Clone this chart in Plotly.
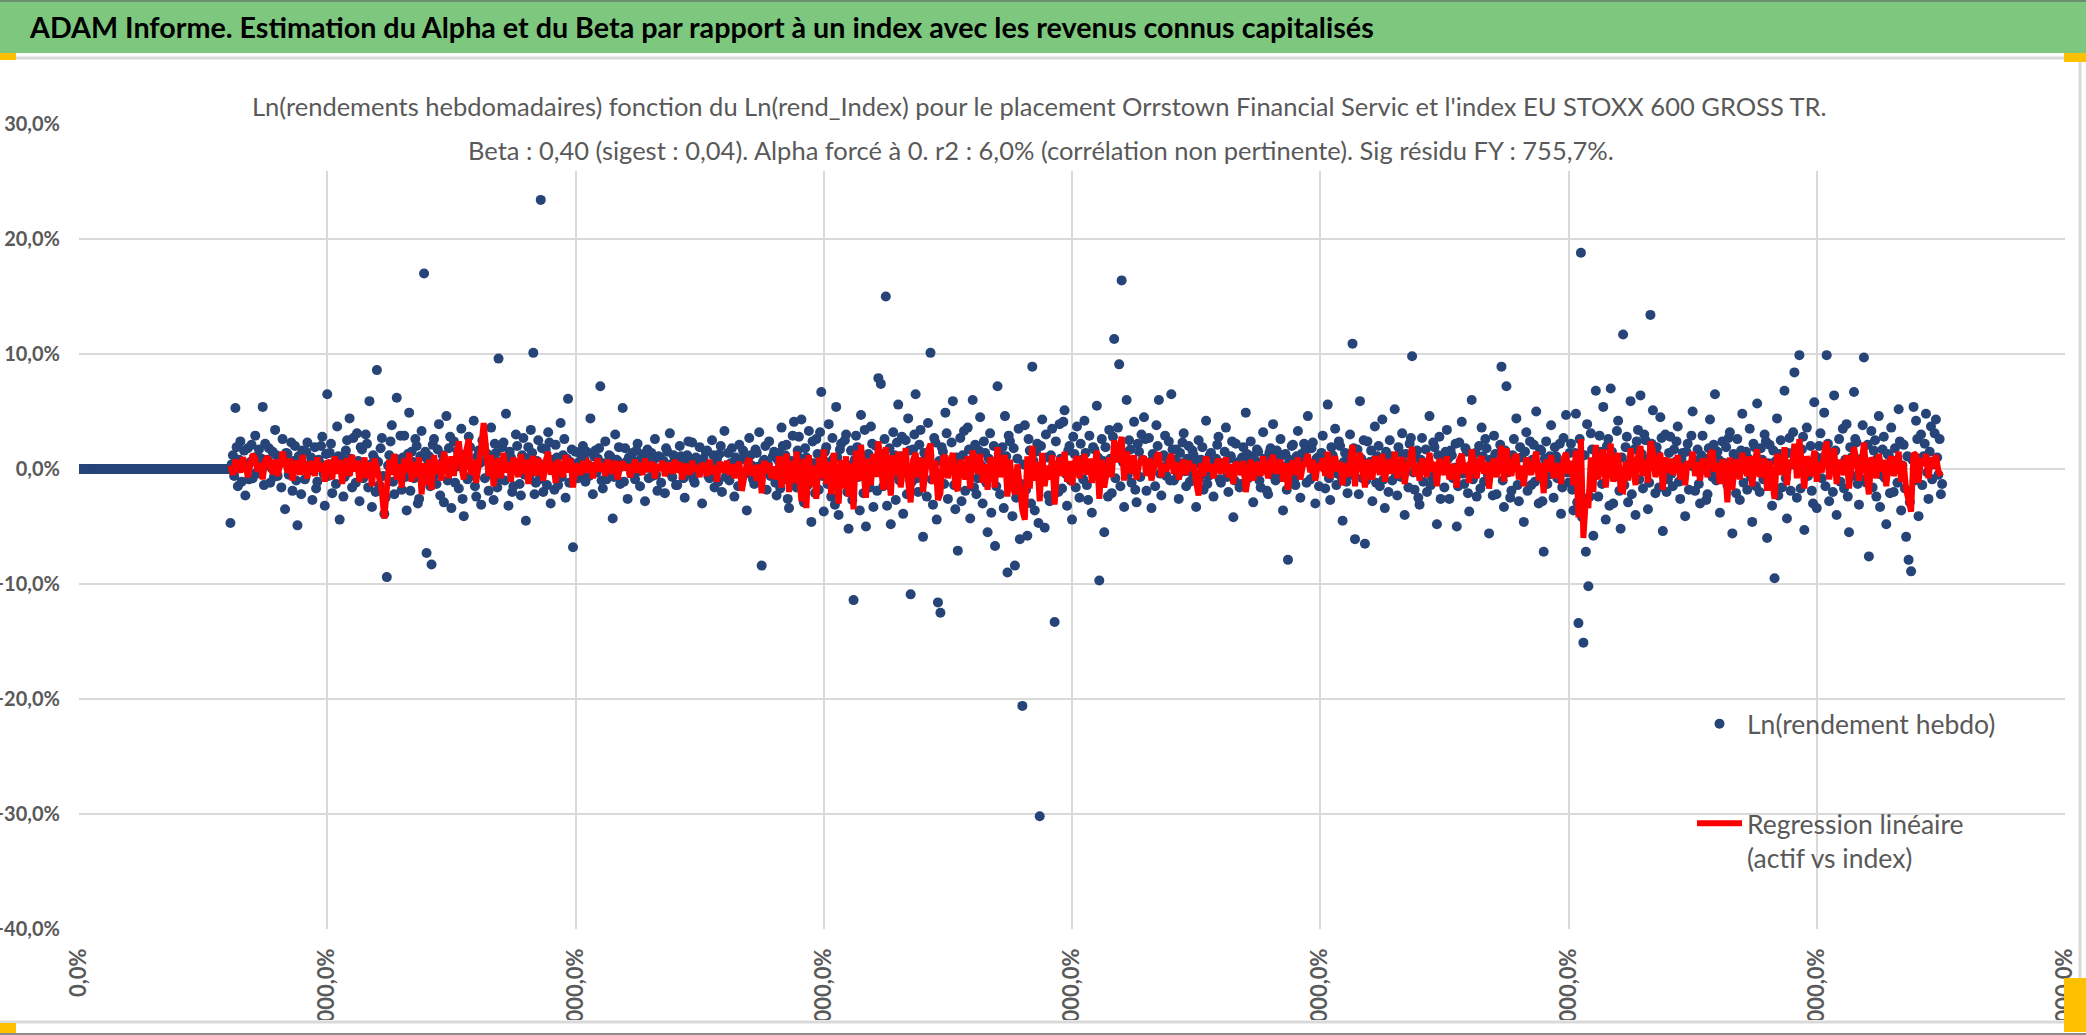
import plotly.graph_objects as go

# ---------------- data (weekly log-returns, in %) ----------------
# weeks before the listing: flat at 0 %
ZERO_RUN = [
    0, 0, 0, 0, 0, 0, 0, 0, 0, 0, 0, 0, 0, 0, 0, 0, 0, 0, 0, 0,
    0, 0, 0, 0, 0, 0, 0, 0, 0, 0, 0, 0, 0, 0, 0, 0, 0, 0, 0, 0,
    0, 0, 0, 0, 0, 0, 0, 0, 0, 0, 0, 0, 0, 0, 0, 0, 0, 0, 0, 0,
    0, 0, 0, 0, 0, 0, 0, 0, 0, 0, 0, 0, 0, 0, 0, 0, 0, 0, 0, 0,
    0, 0, 0, 0, 0, 0, 0, 0, 0, 0, 0, 0, 0, 0, 0, 0, 0, 0, 0, 0,
    0, 0, 0, 0, 0, 0, 0, 0, 0, 0, 0, 0, 0, 0, 0, 0, 0, 0, 0, 0,
    0, 0,
]

# weekly Ln(rendement) of the asset, %
LN_RENDEMENT = [
    -4.7, 0.4, 1.2, -0.6, 5.3, 1.9, -1.5, 0.8, 2.4, -1.1, 0.3, 1.6, -2.3, 0.2, 1.8, -0.9, 0.6, 2.1, -0.8, 1.0,
    2.9, -0.3, 1.1, 1.7, -0.4, 0.9, 5.4, -1.4, 2.2, 0.5, 0.8, 1.8, -1.2, 0.1, 1.5, -0.7, 3.4, 1.2, -0.6, 0.4,
    0.9, -1.6, 2.6, 0.6, -3.5, 1.4, 1.3, -0.5, 0.2, 2.3, -1.9, 0.7, 2.0, -1.0, -4.9, 1.1, 0.7, -2.2, 1.6, 0.3,
    -0.9, 1.5, 2.3, -0.2, 0.4, 1.0, -2.7, 0.6, 1.9, -1.7, -1.1, 0.8, 0.5, 2.0, 2.8, -0.4, -3.2, 1.3, 6.5, -0.6,
    1.4, 2.2, -2.1, 0.3, 0.6, -1.3, 3.7, 1.1, -4.4, 0.5, 1.0, -2.4, -0.7, 1.6, 2.5, -0.3, 4.4, 0.9, -1.6, 2.7,
    0.3, -1.2, 3.1, 0.7, -2.8, 1.9, 1.7, -0.8, -0.5, 3.0, 2.2, -1.6, 5.9, 0.4, -3.3, 1.2, 0.9, -2.0, 8.6, 0.6,
    -1.4, 1.8, 2.7, -0.6, -3.9, -2.5, -9.4, 0.3, 1.2, 2.4, 3.8, -1.1, -2.2, 0.9, 6.2, -0.4, 0.4, 2.9, -1.8, 1.0,
    2.9, -0.7, -3.6, 1.3, 4.9, -1.9, 1.5, 0.6, -0.8, 2.6, 2.0, -3.0, -2.6, 1.1, 3.3, -0.2, 17.0, 1.5, -7.3, 0.8,
    1.1, -1.5, -8.3, 2.1, 2.6, -0.5, -1.3, 1.7, 3.9, -2.3, 0.5, 1.2, -2.9, 0.2, 4.6, -1.0, 1.8, 2.8, -3.4, 0.7,
    2.4, -1.2, 0.2, 1.6, -1.7, 0.9, 3.5, -2.6, -4.1, 0.4, 1.3, -0.9, 2.8, 1.9, -0.6, 0.3, 4.2, -1.5, -2.4, 1.1,
    1.6, 0.5, -3.1, 2.5, 2.1, -0.8, 0.7, 1.3, -1.9, -0.4, 3.6, 1.0, -2.7, 2.2, 1.4, -1.6, 9.6, 0.6, -0.9, 1.9,
    2.3, -1.0, 4.8, 0.8, -3.2, 1.5, 1.0, -2.0, -1.5, 0.3, 3.0, 2.0, 0.5, -1.3, -2.3, 1.2, 2.7, -0.5, -4.5, 0.9,
    1.9, -0.6, 3.4, 1.4, 10.1, -2.2, -1.2, 0.7, 2.5, -0.9, 23.4, 1.8, -2.0, 0.4, 1.7, -1.4, 3.2, 2.3, -3.0, 0.2,
    0.8, -1.8, 2.1, 1.0, -1.4, 0.3, 4.0, -0.7, 1.2, 2.6, -2.5, 0.9, 6.1, -1.2, 0.6, 1.7, -6.8, 0.1, 1.5, -0.8,
    -0.8, 0.6, 1.3, -0.4, 2.0, 0.9, -1.1, 1.5, 0.4, -0.6, 4.4, 0.2, -2.2, 1.1, 1.6, -0.3, 0.9, 1.8, 7.2, -1.0,
    -1.7, 0.5, 2.4, -0.9, -0.3, 1.2, 1.1, 0.4, -4.3, -0.7, 3.0, 0.8, 0.7, 1.9, -1.3, 0.2, 5.3, -1.1, 1.8, 0.6,
    -2.6, 1.0, 0.5, -0.4, 1.4, 0.7, -0.9, 1.6, 2.2, -0.2, -1.5, 0.9, 0.3, 1.3, -2.8, 0.1, 1.7, -0.8, 0.8, 1.4,
    -0.6, 0.8, 2.6, -0.5, -1.9, 1.1, 1.0, -1.2, 0.2, 0.7, -2.1, 1.8, 1.5, -0.3, 3.1, 0.4, -0.7, 1.2, 0.9, -1.4,
    -1.4, 0.3, 2.0, 1.1, 0.6, -0.8, -2.5, 0.9, 1.2, 2.4, -0.4, 0.5, 2.3, -0.9, -1.2, 1.0, 0.7, -0.2, 1.9, 0.6,
    -3.0, 0.9, 0.4, 1.5, 1.6, -0.6, -0.8, 0.3, 2.5, 1.2, -1.6, 0.5, 0.9, -1.1, 1.3, 2.0, -2.0, 0.2, 3.3, -0.7,
    0.1, 1.4, -1.0, 0.5, 1.8, -0.3, -2.4, 1.0, 0.6, -1.5, 2.1, 0.8, -0.5, 1.6, 1.1, -0.4, -3.6, 0.7, 2.7, 1.2,
    0.3, -0.9, -1.3, 1.7, 1.4, 0.2, 3.2, -1.0, -8.4, 0.6, 0.8, 2.0, -1.8, 0.4, 2.4, -0.6, -0.2, 1.1, 1.5, -1.2,
    -2.3, 0.8, 1.4, -1.7, 3.6, 2.0, -0.9, 1.2, 2.1, -2.6, -3.4, 0.5, 0.7, 2.9, 4.1, -1.1, -1.6, 1.6, 2.8, -0.5,
    4.3, 0.9, -2.9, 1.8, 1.0, -1.4, 3.3, 0.2, -4.6, 2.4, 0.5, -2.1, 2.6, 1.3, -1.8, 3.2, 6.7, -0.6, -3.7, 1.5,
    1.9, -1.3, 3.9, 0.6, -2.4, 2.7, 0.9, -3.1, 5.4, 1.0, -4.0, 1.7, 2.2, -0.4, -1.1, 2.5, 3.0, -2.0, -5.2, 0.3,
    1.6, -2.7, -11.4, 0.8, 2.9, 1.9, -0.7, -3.6, 4.7, 1.1, -2.1, 3.4, -5.0, 0.5, 1.3, -1.6, 3.7, 2.2, -3.3, 0.9,
    2.0, -1.9, 7.9, 1.4, 7.4, 0.3, -1.5, 2.6, 15.0, -3.2, 0.8, 1.8, -4.8, -0.6, 3.2, 1.2, -2.7, 2.3, 5.6, -1.0,
    1.1, 2.8, -3.9, 0.4, 2.5, -2.2, 4.4, 1.6, -10.9, -1.1, 1.7, 3.0, 6.5, -0.8, -2.0, 2.1, 3.4, 0.6, -5.9, 1.4,
    0.6, -2.4, 4.0, 1.2, 10.1, -0.9, -3.1, 2.7, 2.3, -4.4, -11.6, 0.7, -12.5, 1.9, 1.5, -1.3, 4.9, 3.1, -2.6, 0.2,
    0.4, 2.3, 5.9, -1.4, -3.5, 1.0, -7.1, 0.6, 2.7, -2.8, 1.2, 3.3, -1.9, -0.5, 3.6, 1.7, -4.3, 0.8, 6.0, -1.6,
    2.1, -2.2, -0.8, 1.6, 4.5, 0.3, -3.0, 2.4, 1.4, -1.2, -5.5, 0.9, 3.1, -3.8, 0.6, 2.0, -6.7, -1.5, 7.2, 1.3,
    -2.2, 0.5, 1.9, -3.4, 4.6, 1.1, -9.0, 2.9, 2.4, -0.7, -4.1, 1.8, -8.4, -2.5, 0.9, 3.5, -6.1, -1.3, -20.6, 0.4,
    3.8, -1.8, -5.8, 2.6, 1.6, -3.0, 8.9, 0.7, -3.6, 1.5, 2.2, -4.7, -30.2, 2.0, 4.3, -0.9, -5.1, 3.0, 1.0, -2.3,
    -2.8, 1.2, 3.5, -0.6, -13.3, 2.4, 0.3, -2.0, 3.9, 0.9, -1.7, 4.1, 5.1, -0.4, -3.2, 1.6, 2.0, -1.0, -4.4, 2.8,
    1.3, -1.6, 3.7, 0.5, -2.5, 2.2, 0.8, -0.9, 4.2, 1.4, -1.4, -2.7, 2.9, 0.3, -3.8, 1.9, 1.7, -0.5, 5.5, 1.0,
    -9.7, -1.2, 2.6, 0.7, -5.5, 1.9, 0.4, -2.4, 3.4, 0.9, -2.1, 2.8, 11.3, -0.8, 1.8, 3.6, 9.1, -1.5, 16.4, 0.6,
    -3.3, 1.4, 6.0, -0.5, 2.5, 1.7, -1.2, 0.3, 4.1, -1.8, -2.9, 2.2, 1.5, -0.7, 3.0, 0.8, 4.5, 2.6, -1.9, -0.2,
    2.7, 0.6, -3.4, 1.3, 0.9, -1.5, 3.8, 2.0, 6.0, -0.4, -2.3, 1.1, 1.2, 2.9, -0.6, 0.4, 2.4, -1.0, 6.5, 1.7,
    -1.0, 0.8, 1.7, -0.6, -2.6, 1.4, 0.5, 2.3, 3.1, -0.2, -1.5, 0.9, 2.0, -1.1, -0.3, 1.6, 1.2, 0.4, -3.3, 0.7,
    2.5, -0.8, 0.8, 1.9, -1.8, 0.3, 4.2, -1.3, -0.6, 1.2, 1.4, -0.4, -2.4, 0.6, 0.9, 2.1, 2.8, -0.9, -1.2, 0.5,
    0.3, 1.5, 3.6, -0.7, -2.0, 0.9, 1.1, 2.4, -4.2, -1.0, 2.2, 0.4, 0.6, -1.6, -1.3, 1.0, 1.9, -0.3, 4.9, 1.3,
    -0.8, 0.6, 2.4, 1.1, -2.9, -0.4, 0.7, 1.7, 1.5, -1.0, -1.6, 0.3, 3.2, 0.9, 0.2, -1.9, -2.2, 1.4, 1.8, -0.5,
    3.9, 0.7, -1.0, 1.6, 0.9, -0.6, 2.6, 1.2, -3.6, 0.2, 1.3, -1.8, -7.9, 0.8, 0.4, 2.0, 2.1, -0.9, -1.4, 1.1,
    3.3, -0.4, -2.5, 1.3, 0.8, 2.2, 1.6, -1.2, 4.6, 0.5, -0.9, 1.8, 2.3, -0.6, -3.0, 0.9, 1.0, -1.5, 0.5, 1.4,
    2.9, 0.4, -1.7, 1.0, 5.6, -0.8, -2.7, 1.9, 1.2, 0.2, 3.5, -1.4, -0.4, 2.4, 2.0, -0.7, -4.5, 0.6, 1.4, -1.1,
    -2.1, 1.2, 3.0, -0.5, 10.9, 1.8, -6.1, 0.6, 1.7, -2.2, 5.9, 0.9, -0.8, 2.5, -6.5, -1.0, 2.4, 0.3, 0.6, 1.6,
    -2.8, 0.7, 3.7, -1.2, 1.1, 2.0, -1.5, 0.4, 4.3, -0.9, -3.4, 1.5, 0.9, -2.0, 2.5, 1.1, -1.0, 0.2, 5.2, -0.6,
    -2.3, 1.9, 1.4, -0.7, 3.1, 0.5, -4.0, 1.3, 0.4, -1.6, 2.2, 2.7, 9.8, -0.3, -1.8, 1.0, 1.6, -2.5, -3.1, 0.8,
    2.7, -1.1, 0.3, 1.7, -2.0, 0.6, 4.6, -1.4, -0.7, 2.3, 1.9, -0.2, -4.8, 1.2, 2.8, -2.6, 0.8, 0.4, -1.6, 1.5,
    3.4, 0.9, -2.6, 1.6, 1.2, -0.8, 0.1, 2.2, -5.0, -1.5, 2.3, 0.6, 4.1, -0.4, -1.3, 1.8, 1.5, -2.1, -3.7, 0.3,
    6.0, -0.9, 0.6, 1.4, -2.4, 0.2, 2.0, -1.7, 3.6, 1.1, -1.1, 2.6, 1.8, -0.5, -5.6, 0.8, 0.7, -2.3, 2.9, 1.3,
    -2.2, 0.4, 1.3, 2.1, 8.9, -1.0, -3.3, 1.6, 7.2, -0.3, 0.5, -2.5, -1.9, 1.2, 2.6, 0.7, 4.4, -1.4, -2.8, 1.9,
    1.0, -0.6, -4.6, 1.5, 3.2, -1.9, 0.2, 2.4, -1.4, 0.8, 2.1, -1.1, 5.0, 0.3, -3.0, 1.7, 1.6, -2.8, -7.2, 0.9,
    2.4, -1.3, -0.5, 1.1, 3.8, 0.4, -2.5, 1.9, 1.1, -0.8, 0.6, 2.2, -3.9, -1.6, 2.7, 0.5, 4.7, -0.3, -1.2, 1.4,
    2.2, -1.8, -3.6, 1.4, 4.8, -2.9, -13.4, 2.6, 18.8, -4.2, -15.1, 1.2, -7.2, 3.9, -10.2, -2.4, 3.1, 1.7, -5.8, -0.6,
    6.8, 1.1, -2.4, 2.9, 1.5, -1.3, 5.4, 0.6, -4.4, 2.0, 2.6, -3.2, 7.0, 1.5, -3.0, -0.7, 0.8, 3.3, 4.2, -1.9,
    -5.2, 1.0, 11.7, -1.4, 1.9, 2.8, -2.9, 0.5, 5.9, -2.2, 0.4, 1.7, -4.0, 2.4, 3.4, -0.9, 6.4, 1.3, -1.7, 3.0,
    2.5, 0.8, -3.5, -1.2, 13.4, 2.2, 5.1, 0.3, -2.1, 1.9, 1.2, -1.6, 4.5, 2.7, -5.4, 0.6, 3.0, -2.0, -0.9, 1.4,
    2.8, -0.4, -1.5, 1.7, 0.6, 2.4, 3.7, -1.1, -2.6, 0.9, 1.4, -0.6, -4.1, 1.5, 2.2, -1.8, 0.3, 2.9, 5.0, 0.2,
    -1.9, 0.7, 1.7, -1.3, -3.0, 1.2, 2.9, 0.4, 0.9, -2.7, -2.2, 1.8, 4.3, -0.3, -0.7, 2.1, 6.5, -1.0, 1.5, 0.8,
    -3.8, 0.6, 2.4, -0.9, 0.5, 1.9, -1.4, 2.7, 3.2, -0.5, -5.6, 1.3, 1.1, -2.1, 2.6, 0.4, -2.7, 1.6, 4.8, -1.2,
    0.2, 1.5, -1.8, 0.9, 3.5, -0.7, -4.6, 2.2, 1.9, -1.5, 5.7, 0.3, -2.0, 1.8, 0.8, -0.9, 3.0, 2.4, -6.0, 0.5,
    2.1, -1.0, -3.2, 1.6, -9.5, 0.7, 4.4, -2.3, 1.3, 2.5, -1.6, 0.2, 6.8, -0.8, -4.3, 1.4, 2.7, -1.9, 0.4, 3.2,
    8.4, 0.9, -2.5, 1.2, 9.9, -1.7, 1.7, 2.8, -5.3, 0.5, 3.6, -0.6, 0.6, 2.0, -1.9, -3.0, 5.8, 1.1, -3.4, 0.4,
    2.0, 3.1, -0.8, 1.0, 4.9, -1.5, 9.9, 2.2, -2.8, 0.7, 1.4, -2.0, 6.4, 1.6, -4.0, 0.3, 2.6, -1.1, 0.3, 3.5,
    -1.7, 0.8, 3.9, -2.4, -5.5, 1.9, 1.0, -0.6, 6.7, 2.6, 2.3, -1.3, -3.1, 0.5, 0.9, 3.8, 9.7, -0.9, -1.2, 2.1,
    -7.6, 0.4, 3.3, -1.6, 1.6, 2.5, -2.4, 0.9, 4.6, -3.3, -0.5, 1.7, 2.8, -0.8, -4.8, 1.3, 1.2, -2.1, 3.6, 0.6,
    -2.0, 1.8, 0.7, -1.2, 5.2, 2.4, -3.6, 0.3, 2.1, -1.7, -5.9, 1.1, -7.9, -2.9, -8.9, 0.8, 5.4, -1.0, 4.2, 2.6,
    -4.1, 0.6, 3.0, -1.4, 1.1, 2.2, 4.8, -0.3, -2.6, 1.5, 3.7, -0.9, 0.4, 3.1, 4.3, 1.0, -0.5, 2.6, -2.2, -1.3,
]

# regression line beta * Ln(rend_Index), %, one value every second week
REGRESSION = [
    0.3, -0.5, 0.8, 0.2, -0.3, 1.0, 0.4, -0.7, 0.6, 1.3,
    0.9, -0.2, 0.5, -0.9, 0.7, 1.1, 0.2, -0.4, 0.8, -0.6,
    0.4, 1.5, 0.6, -0.3, 0.9, -1.0, 0.3, 0.7, -0.5, 1.2,
    0.1, -0.8, 0.6, 0.4, -0.6, 1.0, -0.2, 0.5, -1.1, 0.7,
    0.5, -0.9, 1.1, -0.4, 0.8, -1.3, 0.3, 0.9, -0.6, 1.2,
    -0.2, 0.7, -1.1, 0.4, 1.0, -0.8, 0.6, -1.5, 0.9, 0.2,
    -1.2, -2.0, -4.3, -1.0, 0.8, -0.5, 1.3, -0.9, 0.4, -1.6,
    0.9, -0.3, 1.4, -1.1, 0.6, -0.7, 1.0, -2.2, 0.5, -1.4,
    0.8, -1.8, 1.2, -0.4, 0.7, -1.0, 1.5, 0.3, -0.8, 1.1,
    -0.6, 1.3, 2.4, 0.2, -0.9, 1.6, 2.6, -0.5, 0.8, -1.2,
    1.0, 1.9, 4.0, 0.7, -0.6, 1.2, -1.5, 0.4, 0.9, -0.8,
    1.4, -0.3, 0.6, -1.1, 1.0, 0.2, -0.7, 1.3, -0.4, 0.8,
    -1.3, 0.5, 1.1, -0.6, 0.9, 0.3, -1.0, 0.7, 1.5, -0.5,
    0.6, -1.2, 0.8, 0.1, -0.7, 1.2, -0.3, 0.9, -1.6, 0.4,
    0.2, -0.5, 0.7, -0.3, 0.6, 0.4, -0.8, 0.3, 0.9, -0.2,
    0.5, -0.6, 0.8, 0.1, -0.4, 0.7, -0.9, 0.3, 0.6, -0.1,
    0.4, -0.7, 0.2, 0.8, -0.3, 0.5, -0.5, 0.9, -0.2, 0.3,
    0.6, -0.8, 0.4, -0.1, 0.7, -0.6, 0.2, 0.5, -0.4, 0.8,
    -0.3, 0.6, -0.9, 0.4, 0.1, -0.5, 0.7, -0.2, 0.3, -0.7,
    0.5, 0.2, -0.6, 0.8, -0.4, 0.3, -1.1, 0.6, 0.1, -0.3,
    0.7, -0.5, 0.4, -0.8, 0.2, 0.6, -1.9, -0.4, 0.5, 0.9,
    -0.6, 0.3, -1.0, 0.4, -2.1, 0.7, -0.3, 0.5, -0.8, 0.2,
    -0.9, 1.1, -1.6, 0.4, 1.3, -2.0, 0.7, -1.2, 1.5, -0.5,
    -2.8, 0.9, -3.4, 1.2, -1.5, 0.3, -2.6, 1.0, -0.8, 1.7,
    -1.3, 0.6, -2.2, 1.4, -0.4, -3.0, 0.8, -1.7, 1.1, -2.4,
    0.5, -3.5, 1.6, -1.0, 2.1, -0.6, -2.5, 0.9, -1.4, 1.3,
    -0.7, 2.4, 0.6, -1.8, 1.9, -0.9, -2.3, 1.2, -0.5, 1.5,
    -1.6, 0.4, 1.8, -1.1, -2.9, 0.8, 1.4, -0.7, 1.0, -2.0,
    0.3, 1.6, 2.2, -1.3, 0.7, -2.7, -2.1, 0.9, 1.2, -0.8,
    0.5, 1.4, -1.5, -1.9, 0.8, 0.2, -0.9, 1.1, -1.7, 1.6,
    0.6, -0.4, 1.3, -1.2, 0.4, -1.8, 1.0, 0.3, -1.6, 1.9,
    -0.7, 0.5, 1.2, -2.4, 0.8, -1.4, -2.2, 0.4, -1.9, -3.6,
    -4.4, 1.1, -1.7, 2.0, -1.0, 0.6, -2.8, 1.4, -1.5, 0.3,
    -0.9, 1.2, -3.1, 0.2, 1.0, -0.6, 1.5, -1.1, 0.7, -1.4,
    0.5, 1.1, -0.8, 0.3, 1.3, -0.5, 0.9, -1.2, 0.6, 1.6,
    -2.6, 0.8, -1.6, 0.2, 1.0, -0.7, 2.5, 0.6, 1.9, 2.8,
    -1.0, 1.5, 0.7, -0.4, 1.2, -0.9, 0.4, 0.8, 1.1, -0.6,
    0.9, -1.0, 0.3, 1.1, 1.4, -0.7, 0.4, -0.2, 0.7, 1.3,
    -0.4, 0.6, -0.9, 0.2, 0.8, -0.5, 0.7, -0.1, 0.4, -1.2,
    -2.3, 0.5, -0.6, 1.1, -0.2, 0.4, -0.8, 0.3, 0.9, -0.4,
    0.1, 1.0, -0.7, 0.4, -1.3, 0.6, 0.2, -0.5, 0.7, -2.0,
    -0.3, 0.8, -1.0, 0.3, 0.5, -0.6, 1.1, 0.1, -0.8, 0.6,
    1.2, -0.4, 0.3, 0.8, -1.1, 0.5, -1.8, 0.2, 0.7, -0.5,
    1.0, -0.9, 0.3, 0.6, 1.3, -0.3, 0.8, -1.0, 0.4, 0.2,
    0.9, -0.6, 1.5, -0.8, 0.4, 1.1, -0.2, 0.6, -1.4, 0.5,
    -0.7, 1.0, 2.1, -1.5, 0.6, 1.4, -0.3, -1.6, 0.8, 0.2,
    -0.9, 1.1, 0.4, -0.5, 1.3, -1.1, 0.3, 0.8, -0.4, 1.5,
    -0.8, 0.5, 1.0, -1.3, 0.1, 0.7, 1.9, -0.6, 0.5, -1.0,
    0.9, 0.1, -0.7, 1.4, -0.2, 0.6, -1.5, 0.9, 0.3, -0.5,
    1.1, -0.9, 0.4, 0.0, -1.6, 0.8, 1.3, -0.4, 0.5, -1.2,
    1.7, 0.2, -0.8, 0.7, 1.1, -0.4, 0.6, -1.7, 0.2, 0.9,
    -0.7, 0.4, 2.0, -1.1, 1.8, 0.2, -0.6, 0.8, 1.3, -0.9,
    0.3, -1.5, 1.0, 0.1, -0.5, 0.7, 1.5, -1.0, 0.5, -2.1,
    0.8, -0.2, 1.2, -0.8, 0.4, 0.2, -1.3, 0.9, 1.4, -0.4,
    0.7, -1.4, 1.6, -4.2, 2.6, -6.0, -2.5, -3.4, 1.0, -2.0,
    2.1, -0.9, 0.5, 1.7, -1.6, 0.8, 2.2, -1.1, 0.3, 1.4,
    -1.8, -1.9, 0.6, -1.0, 1.8, 0.1, -1.4, 1.1, 2.0, -0.6,
    0.8, -1.2, 2.4, 1.6, -0.7, 0.4, 1.4, -1.8, 1.0, -0.3,
    0.9, -0.5, 0.2, 1.2, -0.9, 0.5, -1.4, 0.7, 0.1, 1.5,
    -0.6, 0.6, -1.0, 0.9, 0.3, -0.7, 1.3, 1.6, -0.2, 0.5,
    -1.3, 0.8, 0.2, -2.9, 1.0, -1.8, 0.4, 0.8, -0.9, 1.4,
    0.1, -0.6, 1.1, -1.5, 0.6, 1.7, -0.7, 0.3, 0.9, -1.9,
    0.7, -1.1, -2.6, 1.3, 0.4, -0.5, 1.9, -1.4, 0.8, 0.1,
    2.2, -0.8, 2.6, 0.5, -1.7, 1.1, 0.2, -0.6, 1.6, -1.1,
    0.6, -0.3, 1.4, 2.4, -0.9, 0.4, 1.8, -1.3, 0.8, 0.1,
    -0.5, 1.2, -1.7, 0.3, 1.9, 0.7, -1.0, 0.3, 2.3, -0.4,
    -2.2, 1.0, 0.5, -0.8, 1.3, -0.2, 0.8, -1.5, 0.4, 1.1,
    -0.6, 0.2, 1.5, -1.1, 0.6, -1.8, -2.6, -3.7, 1.4, 1.2,
    -1.2, 0.9, 0.3, 1.3, -0.8, 1.0, 0.1, 1.2, -0.2, -0.6,
]

X_TICK_VALUES = [0, 200, 400, 600, 800, 1000, 1200, 1400, 1600]
X_TICK_LABELS = ["0,0%", "20000,0%", "40000,0%", "60000,0%", "80000,0%",
                 "100000,0%", "120000,0%", "140000,0%", "160000,0%"]
Y_TICK_VALUES = [-0.4, -0.3, -0.2, -0.1, 0.0, 0.1, 0.2, 0.3]

MAIN_TITLE = ("ADAM Informe. Estimation du Alpha et du Beta par rapport à un index "
              "avec les revenus connus capitalisés")
CHART_TITLE_1 = ("Ln(rendements hebdomadaires) fonction du Ln(rend_Index) pour le placement "
                 "Orrstown Financial Servic et l'index EU STOXX 600 GROSS TR.")
CHART_TITLE_2 = ("Beta : 0,40 (sigest : 0,04). Alpha forcé à 0. r2 : 6,0% "
                 "(corrélation non pertinente). Sig résidu FY : 755,7%.")

# ---------------- geometry helpers (pixels -> paper) ----------------
W, H = 2086, 1035
ML, MR, MT, MB = 79, 21, 124, 106
PW, PH = W - ML - MR, H - MT - MB


def px(x):
    return (x - ML) / PW


def py(y):
    return (H - MB - y) / PH


FONT = "Lato, Open Sans, sans-serif"
GREY = "#595959"
BLUE = "#264478"
RED = "#FF0000"


def f(size, color=GREY, bold=False):
    d = dict(family=FONT, size=size, color=color)
    if bold:
        d["weight"] = "bold"
    return d


y_blue = [v / 100 for v in ZERO_RUN + LN_RENDEMENT]
x_blue = list(range(len(y_blue)))
y_red = [v / 100 for v in REGRESSION]
x_red = list(range(len(ZERO_RUN), len(ZERO_RUN) + 2 * len(y_red), 2))

fig = go.Figure()
fig.add_trace(go.Scatter(
    x=x_blue, y=y_blue, mode="markers", name="Ln(rendement hebdo)",
    marker=dict(color=BLUE, size=10), legendgroup="a", legendrank=1,
))
fig.add_trace(go.Scatter(
    x=x_red, y=y_red, mode="lines", name="Regression linéaire<br>(actif vs index)",
    line=dict(color=RED, width=6), legendgroup="b", legendrank=2,
))

shapes = [
    # green banner
    dict(type="rect", xref="paper", yref="paper", x0=px(0), x1=px(W), y0=py(53), y1=py(0),
         fillcolor="#7DC87E", line=dict(width=0), layer="above"),
    dict(type="line", xref="paper", yref="paper", x0=px(0), x1=px(W), y0=py(1), y1=py(1),
         line=dict(color="#6E8F6E", width=2), layer="above"),
    # chart frame
    dict(type="line", xref="paper", yref="paper", x0=px(0), x1=px(2080), y0=py(58), y1=py(58),
         line=dict(color="#D9D9D9", width=3), layer="above"),
    # white box behind chart title
    dict(type="rect", xref="paper", yref="paper", x0=px(247), x1=px(1829), y0=py(171), y1=py(72),
         fillcolor="white", line=dict(width=0), layer="above"),
    # clip bottom of x labels
    dict(type="rect", xref="paper", yref="paper", x0=px(0), x1=px(W), y0=py(H), y1=py(1020),
         fillcolor="white", line=dict(width=0), layer="above"),
    dict(type="line", xref="paper", yref="paper", x0=px(0), x1=px(2080), y0=py(1022), y1=py(1022),
         line=dict(color="#D9D9D9", width=3), layer="above"),
    dict(type="line", xref="paper", yref="paper", x0=px(2080), x1=px(2080), y0=py(1022), y1=py(58),
         line=dict(color="#D9D9D9", width=3), layer="above"),
    dict(type="line", xref="paper", yref="paper", x0=px(0), x1=px(W), y0=py(1034), y1=py(1034),
         line=dict(color="#8C8C8C", width=2), layer="above"),
    # selection handles
    dict(type="rect", xref="paper", yref="paper", x0=px(0), x1=px(16), y0=py(60), y1=py(53),
         fillcolor="#FFC000", line=dict(width=0), layer="above"),
    dict(type="rect", xref="paper", yref="paper", x0=px(2064), x1=px(W), y0=py(62), y1=py(53),
         fillcolor="#FFC000", line=dict(width=0), layer="above"),
    dict(type="rect", xref="paper", yref="paper", x0=px(0), x1=px(16), y0=py(1033), y1=py(1023),
         fillcolor="#FFC000", line=dict(width=0), layer="above"),
    dict(type="rect", xref="paper", yref="paper", x0=px(2064), x1=px(W), y0=py(1032), y1=py(978),
         fillcolor="#FFC000", line=dict(width=0), layer="above"),
]

annotations = [
    dict(text=MAIN_TITLE, xref="paper", yref="paper", x=px(27), y=py(27),
         xanchor="left", yanchor="middle", showarrow=False,
         font=f(28.7, "black", bold=True)),
    dict(text=CHART_TITLE_1, xref="paper", yref="paper", x=px(1039), y=py(106),
         xanchor="center", yanchor="middle", showarrow=False, font=f(25.5)),
    dict(text=CHART_TITLE_2, xref="paper", yref="paper", x=px(1041), y=py(150),
         xanchor="center", yanchor="middle", showarrow=False, font=f(25.5)),
]

fig.update_layout(
    width=W, height=H,
    margin=dict(l=ML, r=MR, t=MT, b=MB, pad=0),
    paper_bgcolor="white", plot_bgcolor="white",
    separators=", ",
    font=f(20),
    showlegend=True,
    legend=dict(x=px(1692), y=py(700), xanchor="left", yanchor="top",
                font=f(26.5), bgcolor="rgba(0,0,0,0)", itemwidth=45,
                tracegroupgap=62, traceorder="grouped", valign="top"),
    shapes=shapes,
    annotations=annotations,
)
fig.update_xaxes(range=[0, 1600], tickvals=X_TICK_VALUES, ticktext=X_TICK_LABELS,
                 tickangle=-90, showgrid=True, gridcolor="#D9D9D9", gridwidth=2,
                 zeroline=False, showline=False, ticks="", automargin=False,
                 ticklabelstandoff=14, tickfont=f(22, bold=True))
fig.update_yaxes(range=[-0.4, 0.3], tickvals=Y_TICK_VALUES, tickformat=".1%",
                 showgrid=True, gridcolor="#D9D9D9", gridwidth=2,
                 zeroline=False, showline=False, ticks="", automargin=False,
                 ticklabelstandoff=18, tickfont=f(20, bold=True))

fig.write_html("out.html", config={"displayModeBar": False},
               post_script="document.body.style.margin='0';")
